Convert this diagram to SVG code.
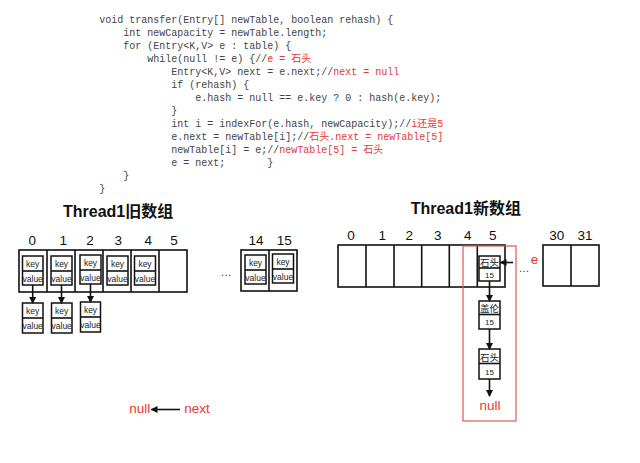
<svg xmlns="http://www.w3.org/2000/svg" width="640" height="463" viewBox="0 0 640 463">
<style>
.code{font-family:"Liberation Mono","Noto Sans CJK SC",monospace;font-size:10px;fill:#444}
.red{fill:#e53935}
.title{font-family:"Liberation Sans","Noto Sans CJK SC",sans-serif;font-size:16px;font-weight:bold;fill:#111}
.idx{font-family:"Liberation Sans",sans-serif;font-size:13.5px;fill:#111;text-anchor:middle}
.box{fill:#fff;stroke:#111;stroke-width:1.6}
.ibox{fill:#fff;stroke:#111;stroke-width:1.5}
.kv{font-family:"Liberation Sans",sans-serif;font-size:8.5px;fill:#222;text-anchor:middle}
.cn{font-family:"Noto Sans CJK SC",sans-serif;font-size:9.5px;fill:#222;text-anchor:middle}
.num{font-family:"Liberation Sans",sans-serif;font-size:8px;fill:#222;text-anchor:middle}
.lbl{font-family:"Liberation Sans",sans-serif;font-size:13.5px;fill:#e53935}
.dots{font-family:"Liberation Sans",sans-serif;font-size:11px;fill:#333}
.conn{stroke:#111;stroke-width:1.6;fill:none}
</style>
<defs>
<marker id="ah" markerWidth="7" markerHeight="7" refX="6" refY="3.5" orient="auto" markerUnits="userSpaceOnUse">
<path d="M0,0 L7,3.5 L0,7 Z" fill="#111"/>
</marker>
</defs>

<g id="code">
<text class="code" x="99.3" y="23">void transfer(Entry[] newTable, boolean rehash) {</text>
<text class="code" x="123.3" y="36">int newCapacity = newTable.length;</text>
<text class="code" x="123.3" y="49">for (Entry&lt;K,V&gt; e : table) {</text>
<text class="code" x="147.3" y="62">while(null != e) {//<tspan class="red">e = 石头</tspan></text>
<text class="code" x="171.3" y="75">Entry&lt;K,V&gt; next = e.next;//<tspan class="red">next = null</tspan></text>
<text class="code" x="171.3" y="88">if (rehash) {</text>
<text class="code" x="195.3" y="101">e.hash = null == e.key ? 0 : hash(e.key);</text>
<text class="code" x="171.3" y="114">}</text>
<text class="code" x="171.3" y="127">int i = indexFor(e.hash, newCapacity);//<tspan class="red">i还是5</tspan></text>
<text class="code" x="171.3" y="140">e.next = newTable[i];//<tspan class="red">石头.next = newTable[5]</tspan></text>
<text class="code" x="171.3" y="153">newTable[i] = e;//<tspan class="red">newTable[5] = 石头</tspan></text>
<text class="code" x="171.3" y="166">e = next;</text>
<text class="code" x="267.3" y="166">}</text>
<text class="code" x="123.3" y="179">}</text>
<text class="code" x="99.3" y="192">}</text>
</g>

<g id="old-title"><text class="title" x="63" y="217">Thread1旧数组</text></g>
<g id="new-title"><text class="title" x="410.7" y="213.5">Thread1新数组</text></g>

<g id="old-array">
<rect class="box" x="19" y="250" width="168" height="42"/>
<line class="conn" x1="47" y1="250" x2="47" y2="292"/>
<line class="conn" x1="75" y1="250" x2="75" y2="292"/>
<line class="conn" x1="103" y1="250" x2="103" y2="292"/>
<line class="conn" x1="131" y1="250" x2="131" y2="292"/>
<line class="conn" x1="159" y1="250" x2="159" y2="292"/>
<text class="idx" x="32.3" y="245">0</text>
<text class="idx" x="63.3" y="245">1</text>
<text class="idx" x="90" y="245">2</text>
<text class="idx" x="118.3" y="245">3</text>
<text class="idx" x="148.3" y="245">4</text>
<text class="idx" x="174" y="245">5</text>
<rect class="box" x="241" y="250" width="56" height="41"/>
<line class="conn" x1="269" y1="250" x2="269" y2="291"/>
<text class="idx" x="256" y="245">14</text>
<text class="idx" x="284.3" y="245">15</text>
<text class="dots" x="220.5" y="275.5">…</text>
</g>

<g id="old-entries">
<g id="o0"><rect class="ibox" x="22.5" y="256" width="20.5" height="29"/><line class="conn" x1="22.5" y1="271" x2="43" y2="271"/><text class="kv" x="32.7" y="267">key</text><text class="kv" x="32.7" y="281.5">value</text></g>
<g id="o1"><rect class="ibox" x="51" y="256" width="21" height="29"/><line class="conn" x1="51" y1="271" x2="72" y2="271"/><text class="kv" x="61.5" y="267">key</text><text class="kv" x="61.5" y="281.5">value</text></g>
<g id="o2"><rect class="ibox" x="80" y="255" width="21" height="29"/><line class="conn" x1="80" y1="270" x2="101" y2="270"/><text class="kv" x="90.5" y="266">key</text><text class="kv" x="90.5" y="280.5">value</text></g>
<g id="o3"><rect class="ibox" x="107" y="256" width="21" height="29"/><line class="conn" x1="107" y1="271" x2="128" y2="271"/><text class="kv" x="117.5" y="267">key</text><text class="kv" x="117.5" y="281.5">value</text></g>
<g id="o4"><rect class="ibox" x="134.5" y="256" width="21" height="29"/><line class="conn" x1="134.5" y1="271" x2="155.5" y2="271"/><text class="kv" x="145" y="267">key</text><text class="kv" x="145" y="281.5">value</text></g>
<g id="o14"><rect class="ibox" x="245" y="255" width="21" height="29"/><line class="conn" x1="245" y1="270" x2="266" y2="270"/><text class="kv" x="255.5" y="266">key</text><text class="kv" x="255.5" y="280.5">value</text></g>
<g id="o15"><rect class="ibox" x="272.5" y="254" width="21" height="29"/><line class="conn" x1="272.5" y1="269" x2="293.5" y2="269"/><text class="kv" x="283" y="265">key</text><text class="kv" x="283" y="279.5">value</text></g>
<g id="c0"><rect class="ibox" x="22.5" y="303" width="20.5" height="30"/><line class="conn" x1="22.5" y1="318" x2="43" y2="318"/><text class="kv" x="32.7" y="314">key</text><text class="kv" x="32.7" y="329">value</text></g>
<g id="c1"><rect class="ibox" x="51.5" y="303" width="20.5" height="30"/><line class="conn" x1="51.5" y1="318" x2="72" y2="318"/><text class="kv" x="61.7" y="314">key</text><text class="kv" x="61.7" y="329">value</text></g>
<g id="c2"><rect class="ibox" x="80.5" y="302" width="20" height="30"/><line class="conn" x1="80.5" y1="317" x2="100.5" y2="317"/><text class="kv" x="90.5" y="313">key</text><text class="kv" x="90.5" y="328">value</text></g>
</g>

<g id="new-array">
<rect class="box" x="338" y="245" width="167" height="42"/>
<line class="conn" x1="366" y1="245" x2="366" y2="287"/>
<line class="conn" x1="394" y1="245" x2="394" y2="287"/>
<line class="conn" x1="421.7" y1="245" x2="421.7" y2="287"/>
<line class="conn" x1="449.3" y1="245" x2="449.3" y2="287"/>
<line class="conn" x1="477.3" y1="245" x2="477.3" y2="287"/>
<text class="idx" x="351" y="239.5">0</text>
<text class="idx" x="382.3" y="239.5">1</text>
<text class="idx" x="409.3" y="239.5">2</text>
<text class="idx" x="437.7" y="239.5">3</text>
<text class="idx" x="467.7" y="239.5">4</text>
<text class="idx" x="492.7" y="239.5">5</text>
<rect class="box" x="543" y="245" width="56" height="41"/>
<line class="conn" x1="571" y1="245" x2="571" y2="286"/>
<text class="idx" x="556.7" y="239.5">30</text>
<text class="idx" x="585" y="239.5">31</text>
<text class="dots" x="518.5" y="271.5">…</text>
</g>

<g id="highlight"><rect x="463" y="246" width="53" height="175" fill="none" stroke="#e05555" stroke-width="1.2"/></g>

<g id="n1"><rect class="ibox" x="479" y="256" width="21" height="25"/><line class="conn" x1="479" y1="268" x2="500" y2="268"/><text class="cn" x="489.5" y="265.5">石头</text><text class="num" x="489.5" y="278">15</text></g>
<g id="n2"><rect class="ibox" x="479" y="301" width="21" height="28"/><line class="conn" x1="479" y1="314.5" x2="500" y2="314.5"/><text class="cn" x="489.5" y="311.5">盖伦</text><text class="num" x="489.5" y="325">15</text></g>
<g id="n3"><rect class="ibox" x="479" y="349" width="21" height="30"/><line class="conn" x1="479" y1="363.5" x2="500" y2="363.5"/><text class="cn" x="489.5" y="360.5">石头</text><text class="num" x="489.5" y="375">15</text></g>
<g id="null-new"><text class="lbl" x="490" y="410" text-anchor="middle">null</text></g>
<g id="e-label"><text class="lbl" x="534.5" y="264" text-anchor="middle" font-size="14">e</text></g>
<g id="legend"><text class="lbl" x="129.3" y="413">null</text><text class="lbl" x="184.3" y="413">next</text></g>

<g id="connectors">
<line class="conn" x1="32.7" y1="285" x2="32.7" y2="303" marker-end="url(#ah)"/>
<line class="conn" x1="61.5" y1="285" x2="61.5" y2="303" marker-end="url(#ah)"/>
<line class="conn" x1="90.5" y1="284" x2="90.5" y2="302" marker-end="url(#ah)"/>
<line class="conn" x1="489.5" y1="281" x2="489.5" y2="301" marker-end="url(#ah)"/>
<line class="conn" x1="489.5" y1="329" x2="489.5" y2="349" marker-end="url(#ah)"/>
<line class="conn" x1="489.5" y1="379" x2="489.5" y2="396" marker-end="url(#ah)"/>
<line class="conn" x1="513" y1="262.5" x2="500.5" y2="262.5" marker-end="url(#ah)"/>
<line class="conn" x1="180" y1="409.5" x2="151.5" y2="409.5" marker-end="url(#ah)"/>
</g>
</svg>
